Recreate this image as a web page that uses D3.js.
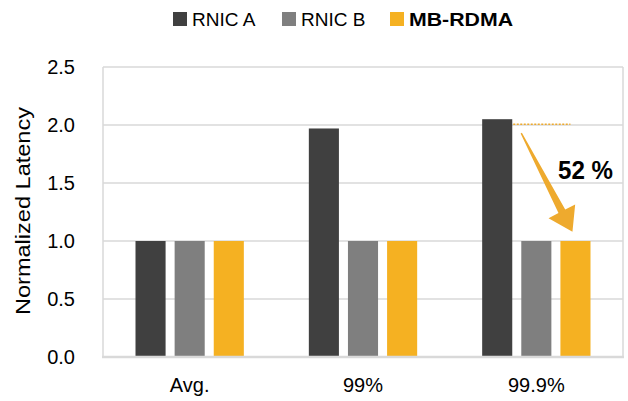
<!DOCTYPE html>
<html><head><meta charset="utf-8">
<script src="https://cdn.jsdelivr.net/npm/d3@7"></script>
<style>
body{margin:0;background:#fff;}
text{font-family:"Liberation Sans",Arial,sans-serif;}
</style></head>
<body><svg id="c" width="628" height="401"></svg>
<script>
const categories = ["Avg.", "99%", "99.9%"];
const seriesNames = ["RNIC A", "RNIC B", "MB-RDMA"];
const rnicA = [1.0, 1.97, 2.05];
const rnicB = [1.0, 1.0, 1.0];
const mbRdma = [1.0, 1.0, 1.0];
const yTicks = [0, 0.5, 1.0, 1.5, 2.0, 2.5];
const colors = ["#404040", "#7f7f7f", "#f5b122"];
const annotationLabel = "52 %";

const svg = d3.select("#c");
const L = 103, R = 623, T = 67, B = 357;
const x = d3.scaleBand().domain(categories).range([L, R]).padding(0);
const bw = x.bandwidth();
const x1 = d3.scaleBand().domain(seriesNames).range([bw*0.1875, bw*0.8125]).paddingInner(0.231).paddingOuter(0);
const y = d3.scaleLinear().domain([0, 2.5]).range([B, T]);
const data = [rnicA, rnicB, mbRdma];

// gridlines
svg.append("g").selectAll("line").data(yTicks.filter(d => d > 0)).join("line")
  .attr("x1", L).attr("x2", R).attr("y1", d => y(d)).attr("y2", d => y(d))
  .attr("stroke", "#d9d9d9").attr("stroke-width", 1.5);
// border
svg.append("line").attr("x1", L).attr("x2", L).attr("y1", T).attr("y2", B).attr("stroke", "#d9d9d9").attr("stroke-width", 1.5);
svg.append("line").attr("x1", R).attr("x2", R).attr("y1", T).attr("y2", B).attr("stroke", "#d9d9d9").attr("stroke-width", 1.5);

// bars
seriesNames.forEach((s, si) => {
  svg.append("g").selectAll("rect").data(categories).join("rect")
    .attr("x", c => x(c) + x1(s))
    .attr("width", x1.bandwidth())
    .attr("y", (c, i) => y(data[si][i]))
    .attr("height", (c, i) => y(0) - y(data[si][i]))
    .attr("fill", colors[si]);
});
// bottom axis line
svg.append("line").attr("x1", L-1).attr("x2", R+1).attr("y1", B).attr("y2", B).attr("stroke", "#d9d9d9").attr("stroke-width", 2.5);

// y axis
const ya = svg.append("g").attr("transform", `translate(${L},0)`)
  .call(d3.axisLeft(y).tickValues(yTicks).tickFormat(d3.format(".1f")).tickSize(0).tickPadding(28));
ya.select(".domain").remove();
ya.selectAll("text").attr("font-size", 20).attr("fill", "#000").attr("font-family", "Liberation Sans, Arial, sans-serif");

// x axis
const xa = svg.append("g").attr("transform", `translate(0,${B})`)
  .call(d3.axisBottom(x).tickSize(0).tickPadding(21));
xa.select(".domain").remove();
xa.selectAll("text").attr("font-size", 20).attr("fill", "#000").attr("font-family", "Liberation Sans, Arial, sans-serif");

// y title
svg.append("text").attr("transform", `translate(30,${(T+B)/2 - 1}) rotate(-90)`)
  .attr("text-anchor", "middle").attr("font-size", 21)
  .attr("textLength", 208).attr("lengthAdjust", "spacingAndGlyphs").text("Normalized Latency");

// legend
const legX = [173, 282, 390];
seriesNames.forEach((s, i) => {
  svg.append("rect").attr("x", legX[i]).attr("y", 12).attr("width", 14).attr("height", 14).attr("fill", colors[i]);
  const t = svg.append("text").attr("x", legX[i] + 19).attr("y", 26).attr("font-size", 19).text(s);
  if (i === 2) t.attr("font-weight", "bold").attr("textLength", 104).attr("lengthAdjust", "spacingAndGlyphs");
});

// annotation
const c3 = categories[2];
const barAright = x(c3) + x1(seriesNames[0]) + x1.bandwidth();
const barCleft = x(c3) + x1(seriesNames[2]);
const barCcenter = barCleft + x1.bandwidth()/2;
const ySame = y(rnicA[2]);
svg.append("line").attr("x1", barAright + 1).attr("x2", barCleft + 10).attr("y1", ySame + 5).attr("y2", ySame + 5)
  .attr("stroke", "#eeaa2e").attr("stroke-width", 1.5).attr("stroke-dasharray", "2,1.5");

const S = [barAright + 9, y(1.93)], Tp = [barCcenter - 3, y(1.08)];
const dx = Tp[0]-S[0], dy = Tp[1]-S[1], len = Math.hypot(dx, dy);
const u = [dx/len, dy/len], n = [-u[1], u[0]];
const hl = 23, hw = 15, w0 = 0.7, w1 = 3.8;
const Bc = [Tp[0]-hl*u[0], Tp[1]-hl*u[1]];
const pts = [
  [S[0]+w0*n[0], S[1]+w0*n[1]],
  [Bc[0]+w1*n[0], Bc[1]+w1*n[1]],
  [Bc[0]+hw*n[0], Bc[1]+hw*n[1]],
  Tp,
  [Bc[0]-hw*n[0], Bc[1]-hw*n[1]],
  [Bc[0]-w1*n[0], Bc[1]-w1*n[1]],
  [S[0]-w0*n[0], S[1]-w0*n[1]]
];
svg.append("path").attr("d", d3.line()(pts) + "Z").attr("fill", "#eeaa2e");

svg.append("text").attr("x", 558).attr("y", 179).attr("font-size", 25).attr("font-weight", "bold")
  .attr("textLength", 55).attr("lengthAdjust", "spacingAndGlyphs").text(annotationLabel);
</script></body></html>
